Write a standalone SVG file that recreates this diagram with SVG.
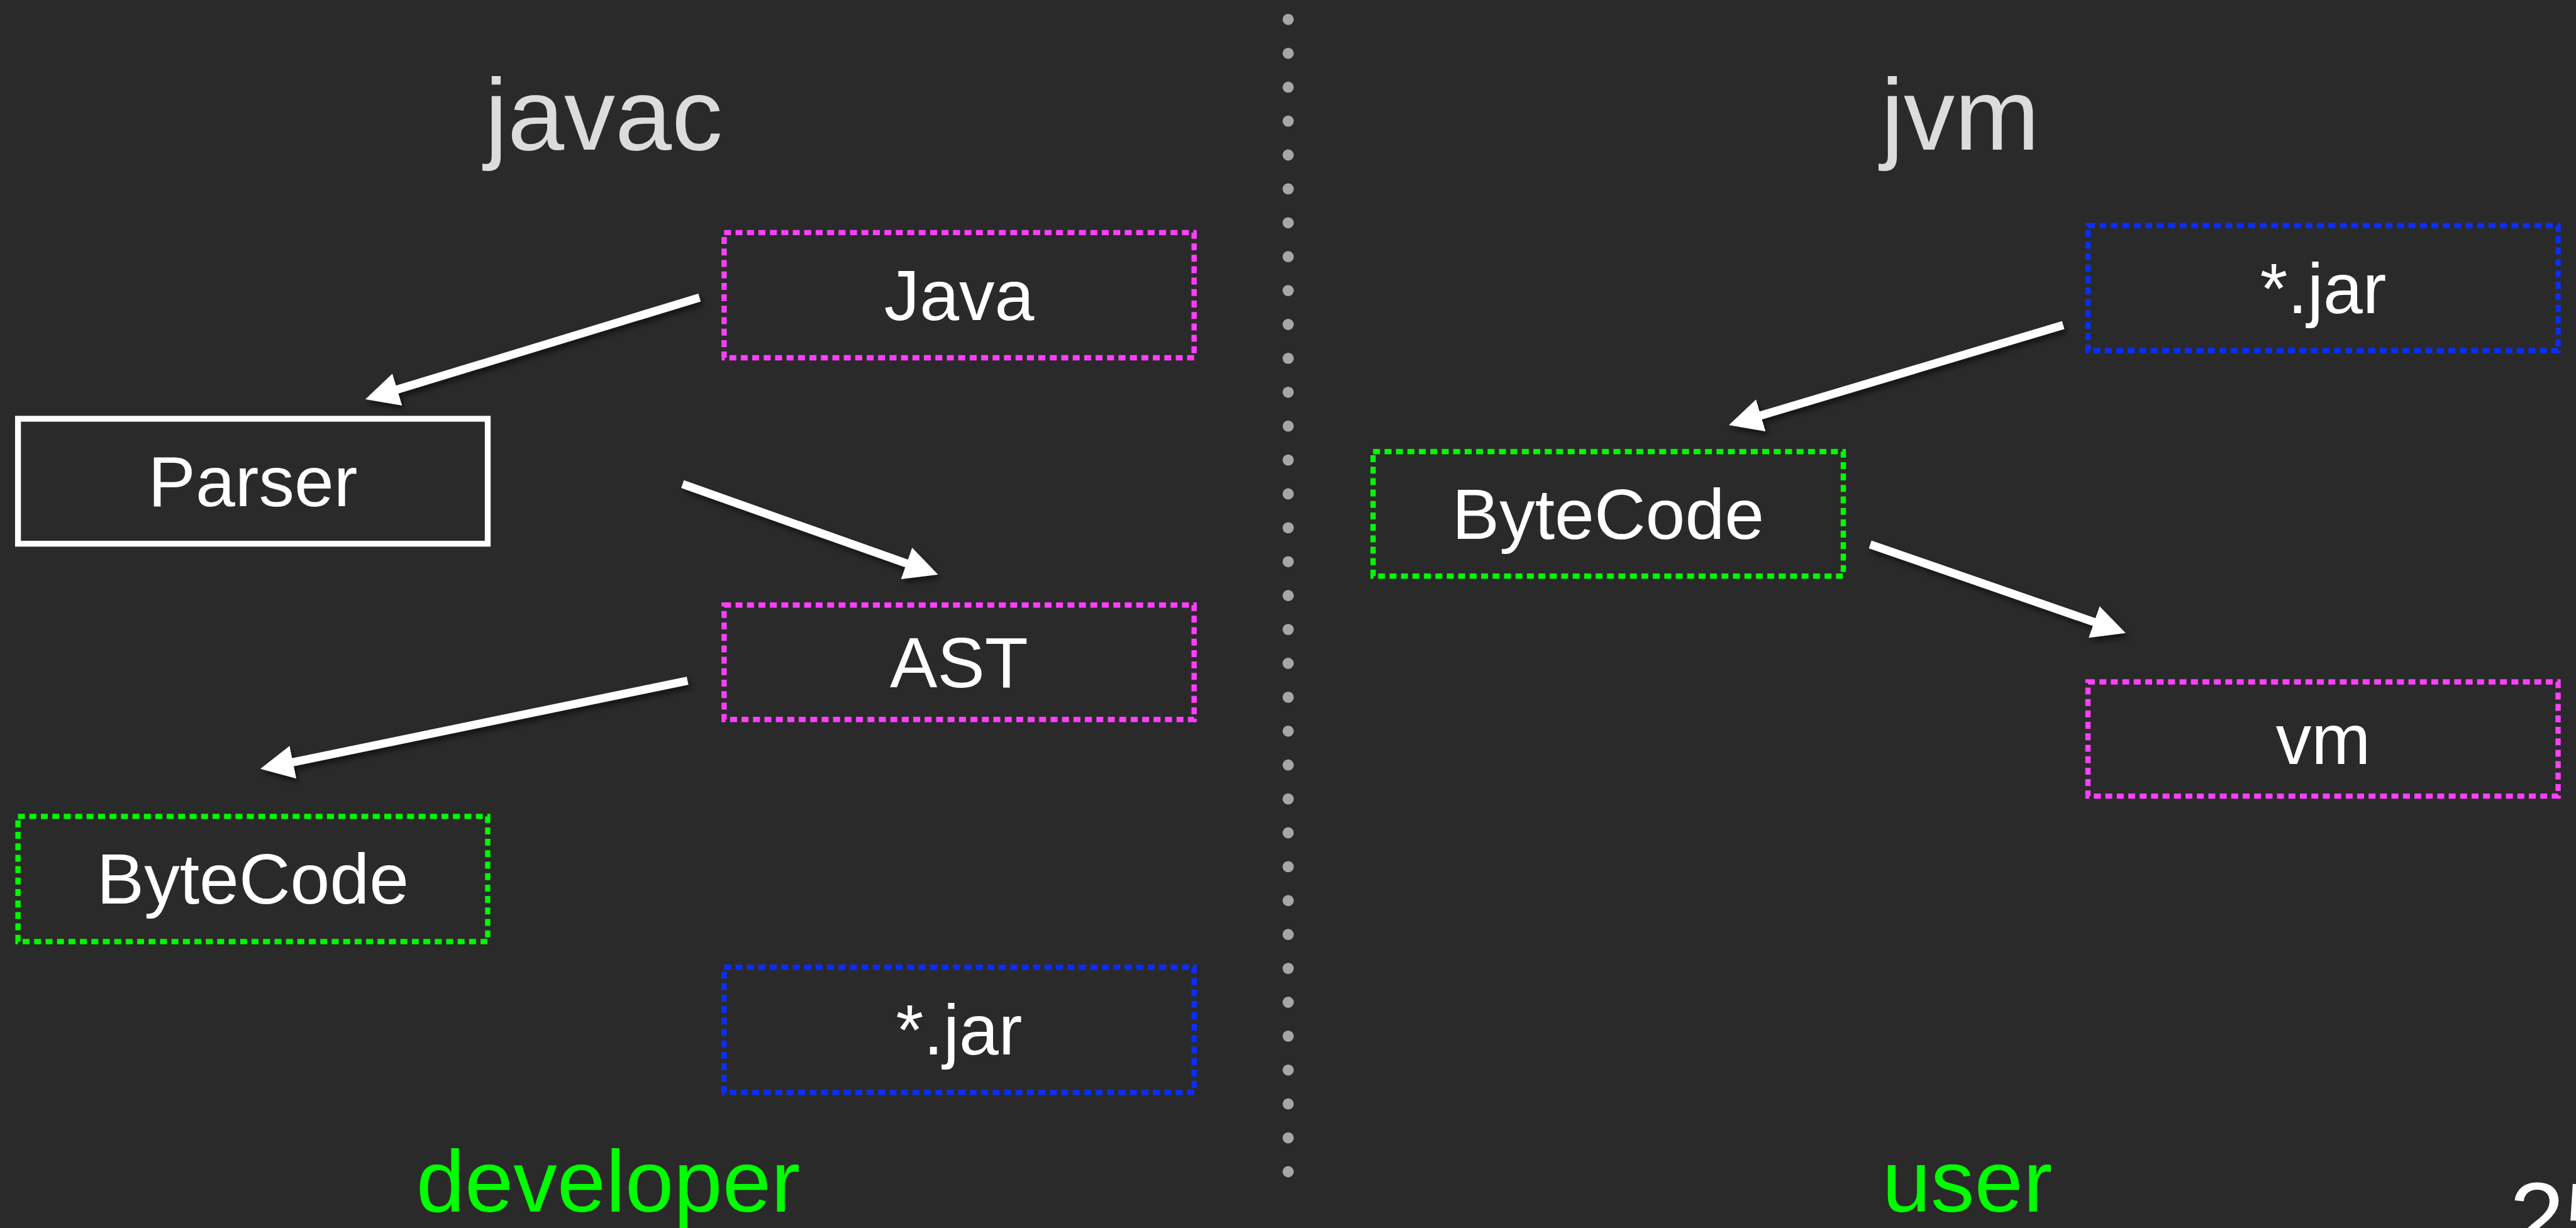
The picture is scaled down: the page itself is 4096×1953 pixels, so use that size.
<svg xmlns="http://www.w3.org/2000/svg" width="4096" height="1953" viewBox="0 0 4096 1953">
  <style>
    text { font-family: "Liberation Sans", Arial, Helvetica, sans-serif; }
    .title { font-size: 162px; fill: #dcdcdc; text-anchor: middle; }
    .role { font-size: 139px; fill: #00ff00; text-anchor: middle; }
    .label { font-size: 113px; fill: #ffffff; text-anchor: middle; }
    .box { fill: none; stroke-width: 8.4; }
    .dotted { stroke-dasharray: 11 7.2; }
    .magenta { stroke: #ff40ff; }
    .green { stroke: #00f900; }
    .blue { stroke: #0a2eff; }
    .solid { stroke: #ffffff; stroke-width: 9.3; }
    .arrow { stroke: #ffffff; stroke-width: 13; fill: none; marker-end: url(#head); }
  </style>
  <defs>
    <marker id="head" viewBox="0 -27 54 54" refX="1" refY="0" markerWidth="54" markerHeight="54" markerUnits="userSpaceOnUse" orient="auto">
      <path d="M0,-26.5 L53,0 L0,26.5 z" fill="#ffffff"/>
    </marker>
    <filter id="shadow" x="-10%" y="-30%" width="120%" height="160%">
      <feDropShadow dx="4" dy="6" stdDeviation="5" flood-color="#000000" flood-opacity="0.55"/>
    </filter>
  </defs>

  <!-- background -->
  <rect x="0" y="0" width="4096" height="1953" fill="#2a2a2a"/>

  <!-- divider made of round dots -->
  <line x1="2048.3" y1="30.9" x2="2048.3" y2="1865" stroke="#a6a6a6" stroke-width="17.8" stroke-linecap="round" stroke-dasharray="0 53.9"/>

  <!-- section titles -->
  <text class="title" x="960" y="238">javac</text>
  <text class="title" x="3117" y="238">jvm</text>
  <text class="role" x="967" y="1927">developer</text>
  <text class="role" x="3128" y="1927">user</text>

  <!-- compile side -->
  <g id="node-java">
    <rect class="box dotted magenta" x="1151.4" y="369.9" width="747.3" height="199.1"/>
    <text class="label" x="1525" y="508.6">Java</text>
  </g>
  <g id="node-parser">
    <rect class="box solid" x="28.6" y="666" width="746.9" height="198.7"/>
    <text class="label" x="402" y="804.5">Parser</text>
  </g>
  <g id="node-ast">
    <rect class="box dotted magenta" x="1151.4" y="962.2" width="747.3" height="182.1"/>
    <text class="label" x="1525" y="1092.5">AST</text>
  </g>
  <g id="node-bytecode-dev">
    <rect class="box dotted green" x="28.6" y="1298.4" width="746.9" height="199.1"/>
    <text class="label" x="402" y="1437.4">ByteCode</text>
  </g>
  <g id="node-jar-dev">
    <rect class="box dotted blue" x="1151.4" y="1538.3" width="747.3" height="199.1"/>
    <text class="label" x="1525" y="1677.3">*.jar</text>
  </g>

  <!-- runtime side -->
  <g id="node-jar-user">
    <rect class="box dotted blue" x="3320" y="358.7" width="747.5" height="199.1"/>
    <text class="label" x="3694" y="497.7">*.jar</text>
  </g>
  <g id="node-bytecode-user">
    <rect class="box dotted green" x="2183.3" y="718.2" width="747.7" height="198"/>
    <text class="label" x="2557" y="856.7">ByteCode</text>
  </g>
  <g id="node-vm">
    <rect class="box dotted magenta" x="3320" y="1084.5" width="747.5" height="181.6"/>
    <text class="label" x="3694" y="1215">vm</text>
  </g>

  <!-- connectors -->
  <g id="connectors" filter="url(#shadow)">
    <line class="arrow" x1="1112.3" y1="473.2" x2="630.7" y2="619.8"/>
    <line class="arrow" x1="1085.3" y1="769.9" x2="1442.4" y2="896.4"/>
    <line class="arrow" x1="1093.2" y1="1082.6" x2="464.9" y2="1212.3"/>
    <line class="arrow" x1="3280.6" y1="517" x2="2798.9" y2="661"/>
    <line class="arrow" x1="2973.7" y1="865.8" x2="3330.7" y2="989.6"/>
  </g>

  <!-- page number, running off the corner -->
  <text x="3990" y="1991" font-size="158" fill="#ffffff">25</text>
</svg>
